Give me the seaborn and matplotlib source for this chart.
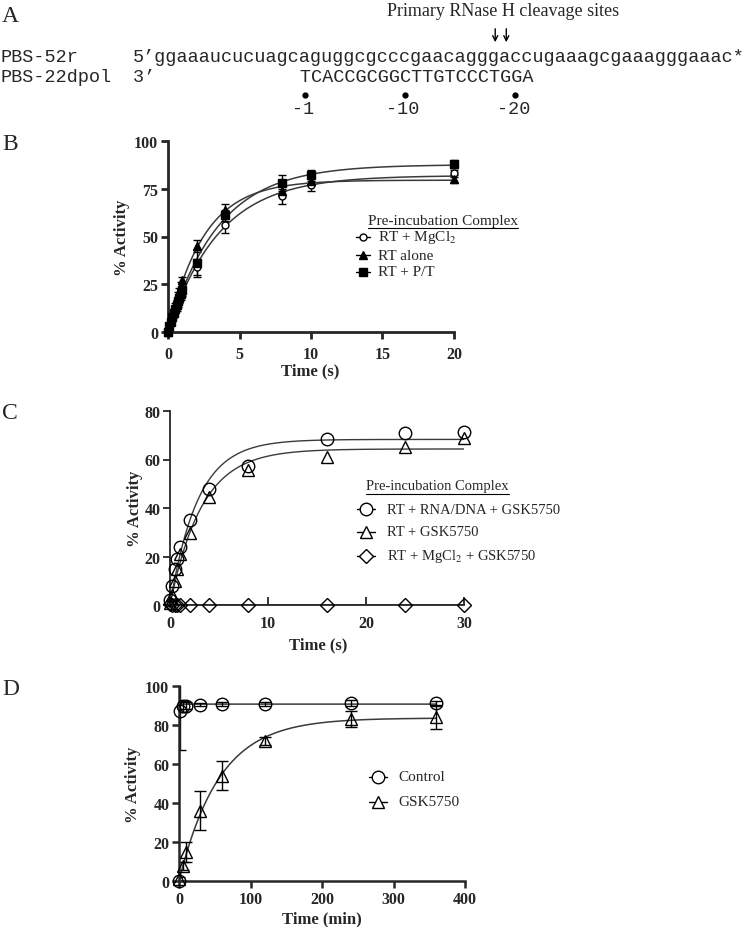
import numpy as np
import pandas as pd
import matplotlib
matplotlib.use("Agg")
import matplotlib.pyplot as plt
import seaborn as sns

# ====================================================
# Panel A: sequence data
# ====================================================
rna_name = "PBS-52r"
dna_name = "PBS-22dpol"
rna_seq = "ggaaaucucuagcaguggcgcccgaacagggaccugaaagcgaaagggaaac"
dna_seq = "TCACCGCGGCTTGTCCCTGGA"
dna_offset = 13              # first DNA base sits under rna_seq[13]
cleavage_idx = [30, 31]      # arrows above these RNA bases
pos_labels = ["-1", "-10", "-20"]
pos_idx = [0, 9, 19]         # index into dna_seq

# ====================================================
# Panel B: RT pre-incubation, time in s
# ====================================================
t_b = [0, 0.1, 0.2, 0.3, 0.4, 0.5, 0.6, 0.7, 0.8, 0.9, 1.0, 2, 4, 8, 10, 20]
mg_b = [0, 2, 5, 7, 9, 11, 13, 15, 17, 19, 21, 34, 56, 71, 77, 83]
mg_b_err = [0, 1, 1, 1, 1, 1, 2, 2, 2, 2, 2, 4, 4, 4, 3, 2]
alone_b = [0, 3, 6, 9, 11, 14, 16, 19, 21, 24, 27, 45, 64, 74, 79, 80]
alone_b_err = [0, 1, 1, 1, 1, 1, 1, 2, 2, 2, 2, 3, 3, 3, 2, 2]
pt_b = [0, 3, 5, 8, 10, 12, 14, 16, 18, 20, 22, 36, 61, 78, 82, 88]
pt_b_err = [0, 1, 1, 1, 1, 1, 2, 2, 2, 2, 2, 7, 3, 4, 3, 2]
labels_b = ["RT + MgCl$_2$", "RT alone", "RT + P/T"]

# ====================================================
# Panel C: with GSK5750, time in s
# ====================================================
t_c = [0, 0.25, 0.5, 0.75, 1, 2, 4, 8, 16, 24, 30]
rna_c = [2, 8, 15, 19, 24, 35, 48, 57.5, 68.5, 71, 71.5]
gsk_c = [1, 4, 10, 15, 21, 29.5, 44.5, 55.5, 61, 65, 69]
mg_c = [0.3, 0.2, 0.1, 0, 0, 0, 0, 0, 0, 0, 0]
labels_c = ["RT + RNA/DNA + GSK5750", "RT + GSK5750", "RT + MgCl$_2$ + GSK5750"]

# ====================================================
# Panel D: recovery, time in min
# ====================================================
t_ctrl = [0, 1, 5, 10, 30, 60, 120, 240, 360]
ctrl = [0, 87, 89.5, 90, 90.5, 91, 91, 91.5, 91.5]
ctrl_err = [0, 20, 3, 2, 1, 1, 1, 1.5, 1]
t_gsk = [0, 5, 10, 30, 60, 120, 240, 360]
gsk = [1, 7.5, 15, 36, 54, 72, 83, 84]
gsk_err = [1, 2, 5, 10, 7.5, 2, 4, 6]
labels_d = ["Control", "GSK5750"]


def fit_exp(t, y):
    # single exponential y = A(1 - exp(-k t)), least squares over a k grid
    t = np.asarray(t, float)
    y = np.asarray(y, float)
    best = None
    for k in np.logspace(-3, 1.5, 3000):
        f = 1 - np.exp(-k * t)
        amp = (f @ y) / (f @ f)
        sse = ((y - amp * f) ** 2).sum()
        if best is None or sse < best[0]:
            best = (sse, amp, k)
    return best[1], best[2]


def fit_curve(t, y, tmax):
    amp, k = fit_exp(t, y)
    tt = np.unique(np.concatenate([np.linspace(0, tmax, 400),
                                   np.linspace(0, tmax * 0.02, 100)]))
    return pd.DataFrame({"t": tt, "y": amp * (1 - np.exp(-k * tt))})


sns.set_style("ticks")
plt.rcParams["font.family"] = ["Liberation Serif", "DejaVu Serif"]
plt.rcParams["mathtext.fontset"] = "stix"

fig = plt.figure(figsize=(7.45, 9.28), dpi=100)
W, H = 745, 928


def add_ax(left, right, top, bottom):
    return fig.add_axes([left / W, 1 - bottom / H, (right - left) / W, (bottom - top) / H])


line_col = "#3a3a3a"


def style_ax(ax, spine_w, xin=False, xpad=5):
    sns.despine(ax=ax)
    for s in ["left", "bottom"]:
        ax.spines[s].set_linewidth(spine_w)
    ax.tick_params(axis="y", direction="out", width=spine_w, length=5, labelsize=11.5, pad=2)
    ax.tick_params(axis="x", direction="in" if xin else "out", width=spine_w,
                   length=6 if xin else 5, labelsize=11.5, pad=xpad)
    for lab in ax.get_xticklabels() + ax.get_yticklabels():
        lab.set_fontweight("bold")
    ax.set_xlabel(ax.get_xlabel(), fontsize=12, fontweight="bold")
    ax.set_ylabel("% Activity", fontsize=12, fontweight="bold")
    ax.xaxis.label.set_va("center")
    ax.yaxis.label.set_va("center")


# ---------------- Panel B ----------------
axB = add_ax(168, 454, 142, 333)
styles_b = [("o", "white", 5), ("^", "black", 6), ("s", "black", 5.5)]
for yv, err, (mk, fc, ms) in zip([mg_b, alone_b, pt_b], [mg_b_err, alone_b_err, pt_b_err], styles_b):
    curve = fit_curve(t_b, yv, 20)
    sns.lineplot(data=curve, x="t", y="y", ax=axB, color=line_col, lw=1.1, estimator=None)
    axB.errorbar(t_b, yv, yerr=err, fmt="none", ecolor="black", elinewidth=1, capsize=3, capthick=1, clip_on=False)
    axB.plot(t_b, yv, ls="none", marker=mk, mfc=fc, mec="black", ms=ms, mew=1, clip_on=False, zorder=5)
axB.set_xlim(0, 20)
axB.set_ylim(0, 100)
axB.set_xticks([0, 5, 10, 15, 20])
axB.set_yticks([0, 25, 50, 75, 100])
axB.set_xlabel("Time (s)")
style_ax(axB, 2.0)
axB.xaxis.set_label_coords((310 - 168) / 286, (333 - 371) / 191)
axB.yaxis.set_label_coords((122 - 168) / 286, 0.5)

# ---------------- Panel C ----------------
axC = add_ax(170, 464, 412, 606)
styles_c = [("o", 9), ("^", 9), ("D", 7.5)]
for yv, (mk, ms) in zip([rna_c, gsk_c, mg_c], styles_c):
    curve = fit_curve(t_c, yv, 30)
    sns.lineplot(data=curve, x="t", y="y", ax=axC, color=line_col, lw=1.0, estimator=None)
    axC.plot(t_c, yv, ls="none", marker=mk, mfc="none", mec="black", ms=ms, mew=1, clip_on=False, zorder=5)
axC.set_xlim(0, 30)
axC.set_ylim(0, 80)
axC.set_xticks([0, 10, 20, 30])
axC.set_yticks([0, 20, 40, 60, 80])
axC.set_xlabel("Time (s)")
style_ax(axC, 1.3, xin=True, xpad=7)
axC.xaxis.set_label_coords((318 - 170) / 294, (606 - 645) / 194)
axC.yaxis.set_label_coords((135 - 170) / 294, 0.5)

# ---------------- Panel D ----------------
axD = add_ax(179, 465, 687, 882)
for tv, yv, err, mk in [(t_ctrl, ctrl, ctrl_err, "o"), (t_gsk, gsk, gsk_err, "^")]:
    curve = fit_curve(tv, yv, 360)
    sns.lineplot(data=curve, x="t", y="y", ax=axD, color=line_col, lw=1.1, estimator=None)
    axD.errorbar(tv, yv, yerr=err, fmt="none", ecolor="black", elinewidth=1, capsize=4, capthick=1)
    axD.plot(tv, yv, ls="none", marker=mk, mfc="none", mec="black", ms=9, mew=1, clip_on=False, zorder=5)
axD.set_xlim(0, 400)
axD.set_ylim(0, 100)
axD.set_xticks([0, 100, 200, 300, 400])
axD.set_yticks([0, 20, 40, 60, 80, 100])
axD.set_xlabel("Time (min)")
style_ax(axD, 1.8, xpad=2.5)
axD.xaxis.set_label_coords((322 - 179) / 286, (882 - 919) / 195)
axD.yaxis.set_label_coords((133 - 179) / 286, 0.5)

# ---------------- overlay in pixel coords (panel A, letters, legends) ----------------
ov = fig.add_axes([0, 0, 1, 1], zorder=10)
ov.set_xlim(0, W)
ov.set_ylim(H, 0)
ov.axis("off")
ov.patch.set_alpha(0)

for letter, y in zip("ABCD", [16, 144, 414, 690]):
    ov.text(2, y, letter, fontsize=17, va="center", ha="left")

mono = "Liberation Mono"
mono_size = 13.3
cw = 0.6 * mono_size * 100 / 72   # char width in px
x0 = 133
ov.text(0, 57, rna_name, family=mono, fontsize=mono_size, va="center")
ov.text(0, 78, dna_name, family=mono, fontsize=mono_size, va="center")
ov.text(x0, 57, "5\u2019" + rna_seq + "*", family=mono, fontsize=mono_size, va="center")
ov.text(x0, 78, "3\u2019" + " " * dna_offset + dna_seq, family=mono, fontsize=mono_size, va="center")
ov.text(np.mean([x0 + (2 + i + 0.5) * cw for i in cleavage_idx]) + 4, 12,
        "Primary RNase H cleavage sites", fontsize=13, ha="center", va="center")
for i in cleavage_idx:
    xa = x0 + (2 + i + 0.5) * cw + 2
    ov.annotate("", xy=(xa, 46), xytext=(xa, 27),
                arrowprops=dict(arrowstyle="->", lw=1, color="black", mutation_scale=9))
for lab, i in zip(pos_labels, pos_idx):
    xc = x0 + (2 + dna_offset + i + 0.5) * cw
    ov.plot([xc], [96], "o", color="black", ms=3.5)
    ov.text(xc - 2, 110, lab, family=mono, fontsize=mono_size, ha="center", va="center")


def legend(x_mark, x_text, ys, labels, markers, half, fs, title=None, title_y=None, title_x=None):
    for y, lab, (mk, fc, ms) in zip(ys, labels, markers):
        ov.plot([x_mark - half, x_mark + half], [y, y], color="black", lw=1)
        ov.plot([x_mark], [y], marker=mk, mfc=fc, mec="black", ms=ms, mew=1)
        ov.text(x_text, y, lab, fontsize=fs, va="center", ha="left")
    if title:
        t = ov.text(title_x, title_y, title, fontsize=fs, va="center", ha="left")
        fig.canvas.draw()
        bb = t.get_window_extent()
        ov.plot([bb.x0, bb.x1], [title_y + 8, title_y + 8], color="black", lw=0.8)


legend(363, 378, [238, 256, 273], labels_b,
       [("o", "white", 5), ("^", "black", 6), ("s", "black", 5.5)],
       7, 11, "Pre-incubation Complex", 221, 368)
legend(366, 387, [510, 533, 557], labels_c,
       [("o", "white", 9), ("^", "white", 9), ("D", "white", 7.5)],
       9, 10.5, "Pre-incubation Complex", 487, 366)
legend(378, 398, [778, 803], labels_d,
       [("o", "white", 9), ("^", "white", 9)], 9, 11)

fig.savefig("out.png", dpi=100)
